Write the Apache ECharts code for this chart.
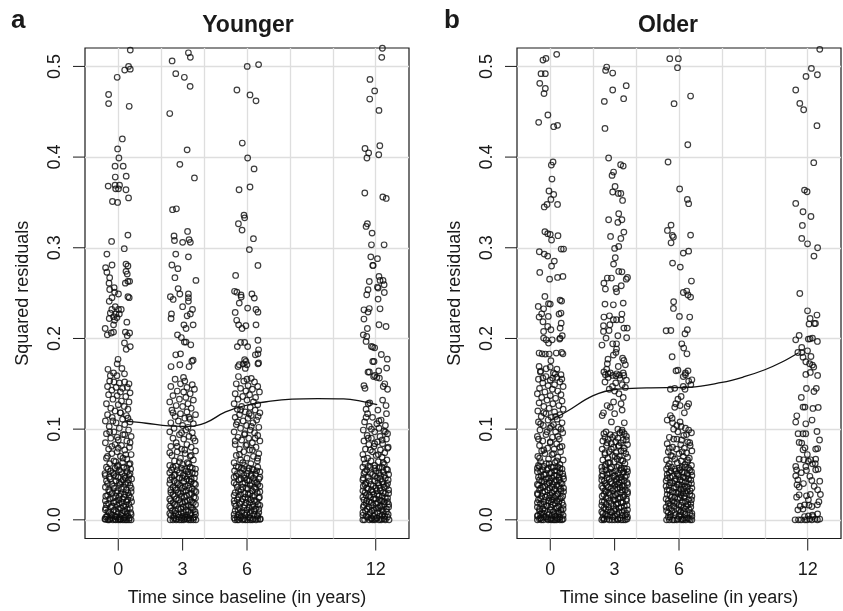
<!DOCTYPE html>
<html>
<head>
<meta charset="utf-8">
<script src="https://cdn.jsdelivr.net/npm/echarts@6/dist/echarts.min.js"></script>
<style>html,body{margin:0;padding:0;background:#fff}#c{width:843px;height:611px}</style>
</head>
<body>
<div id="c"></div>
<script>
// ---- data ----
var timePoints = [0, 3, 6, 12];
var xTicks = [0, 3, 6, 12];
var xGridValues = [0, 2, 4, 6, 8, 10, 12];
var yTicks = [0, 0.1, 0.2, 0.3, 0.4, 0.5];
var panelTitles = ['Younger', 'Older'];
var panelLetters = ['a', 'b'];

// each point: [jitter offset from the visit time, squared residual]
var youngerT0 = [[.56,.518],[.48,.5],[.3,.496],[.56,.497],[-.05,.488],[-.45,.469],[-.45,.459],[.51,.456],[.19,.42],[-.03,.409],[.03,.399],[-.15,.39],[.23,.39],[-.14,.378],[.37,.379],[-.47,.368],[-.15,.369],[-.12,.365],[.01,.365],[.06,.369],[.36,.364],[.48,.355],[-.27,.351],[-.03,.35],
[.45,.314],[-.31,.307],[.28,.299],[-.53,.293],[-.29,.281],[-.59,.278],[-.53,.273],[.36,.282],[.45,.28],[.36,.274],[.42,.271],[.45,.263],[.33,.261],[.53,.263],[-.4,.267],[-.43,.261],[-.4,.254],[-.19,.256],[-.17,.251],[.01,.249],[-.29,.245],[-.42,.241],[.45,.246],[.51,.245],[-.14,.235],[.01,.232],[-.3,.232],[.14,.232],[-.37,.228],[-.11,.227],[.05,.227],[-.22,.224],[-.42,.222],[-.06,.223],[-.17,.22],[-.22,.215],[.4,.218],[-.61,.211],[-.51,.204],[-.33,.206],[-.22,.207],[.33,.207],[.42,.203],[.53,.206],[.29,.195],[.56,.191],[.37,.188],[-.01,.177],[-.05,.172],[.17,.167],[-.48,.166],[-.22,.162],[-.37,.159],[-.06,.159],[.29,.161],
[-.4,.153],[-.2,.152],[.05,.151],[.3,.152],[.5,.15],[-.5,.147],[-.1,.146],[.2,.145],[.42,.146],[-.3,.143],[.1,.141],[.55,.14],[-.45,.138],[-.05,.137],[.35,.136],[-.25,.133],[.15,.131],[.5,.13],[-.55,.128],[0,.127],[.28,.125],[-.35,.123],[.45,.122],[-.15,.12],[.1,.118],[-.5,.116],[.38,.115],[-.28,.113],[.2,.111],[-.6,.109],[.55,.108],[-.1,.107],[.3,.105],[-.42,.103],[.05,.101],[.48,.099],[-.2,.097],[-.55,.095],[.22,.094],[.6,.092],[-.35,.09],[0,.088],[.4,.087],[-.6,.085],[-.15,.083],[.15,.082],[.52,.08],[-.45,.078],[.3,.077],[-.05,.075],[-.3,.073],[.6,.072],[.1,.07],[-.55,.068],[.4,.067],[-.2,.065],[.2,.063],[-.4,.062],[.5,.061],[0,.06],
[-.55,.058],[-.15,.057],[.25,.058],[.58,.056],[-.35,.054],[.05,.055],[.42,.053],[-.62,.051],[-.2,.05],[.18,.051],[.5,.049],[-.42,.047],[0,.047],[.33,.046],[.62,.045],[-.55,.043],[-.1,.043],[.15,.042],[.45,.041],[-.3,.039],[.08,.039],[.55,.038],[-.6,.036],[-.18,.035],[.25,.036],[-.45,.033],[-.02,.032],[.38,.033],[.6,.031],[-.3,.029],[.12,.029],[.5,.027],[-.58,.026],[-.12,.026],[.28,.025],[-.4,.023],[.03,.022],[.45,.022],[.62,.02],[-.22,.019],[.18,.019],[-.55,.017],[-.05,.016],[.35,.016],[-.35,.014],[.1,.013],[.55,.013],[-.6,.011],[-.18,.011],[.25,.01],[-.42,.008],[0,.008],[.42,.007],[.6,.006],[-.28,.005],[.15,.005],[-.52,.004],[-.08,.003],[.32,.003],[.52,.002],[-.62,.001],[-.38,.001],[-.15,.0005],[.05,.001],[.22,0],[.4,0],[.6,0],[-.48,0],[-.25,0],[0,0],
[-.48,.056],[-.05,.059],[.4,.057],[.12,.053],[-.25,.052],[.55,.051],[-.6,.049],[.3,.048],[-.12,.048],[.48,.044],[-.38,.045],[.22,.044],[.05,.041],[-.5,.04],[.35,.04],[-.22,.037],[.6,.035],[.15,.034],[-.4,.031],[.45,.03],[-.08,.03],[.3,.028],[-.5,.027],[.05,.026],[.58,.024],[-.25,.024],[.2,.023],[-.6,.021],[.38,.02],[-.12,.02],[.05,.018],[-.45,.018],[.5,.017],[.25,.015],[-.28,.015],[-.58,.013],[.42,.012],[0,.012],[-.1,.009],[.32,.009],[-.48,.009],[.58,.008],[.18,.007],[-.35,.006],[-.15,.004],[.45,.004],[.05,.003],[-.58,.003],[.28,.002],[-.3,.002],[.12,.001],[-.42,0],[.5,0],[.32,0],[-.6,.0005],[.1,0],[-.12,0],
[.1,.118],[-.25,.109],[.45,.112],[-.4,.097],[.3,.094],[-.05,.091],[.55,.085],[-.3,.081],[0,.079],[.35,.072],[-.5,.07],[.22,.068],[-.12,.064],[.55,.062]];

var youngerT3 = [[.27,.515],[.36,.51],[-.49,.506],[-.32,.492],[.08,.488],[.35,.478],[-.6,.448],[.21,.408],[-.13,.392],[.55,.377],[-.47,.342],[-.29,.343],[.23,.318],[-.4,.313],[-.38,.308],[0,.306],[.3,.309],[.36,.306],[-.32,.293],[.27,.29],[-.5,.281],[-.22,.277],[-.36,.267],[.62,.264],[-.21,.255],[-.57,.246],[-.44,.243],[-.13,.249],[.27,.249],[.27,.245],[.27,.241],[0,.235],[.46,.232],[.21,.225],[.36,.227],[-.52,.227],[-.54,.222],[.06,.215],[.16,.211],[.49,.215],[-.24,.204],[-.06,.201],[.08,.196],[.16,.196],[.38,.193],[-.32,.182],[-.1,.183],[-.54,.169],[-.13,.171],[.43,.175],[.49,.176],[.3,.169],[.04,.157],
[-.35,.155],[.1,.153],[-.1,.15],[.45,.149],[-.55,.147],[.2,.146],[.55,.144],[-.25,.142],[.05,.141],[.35,.139],[-.45,.137],[.15,.135],[-.15,.133],[.5,.132],[-.6,.13],[.25,.128],[-.3,.126],[0,.125],[.4,.123],[-.5,.121],[.2,.119],[-.1,.117],[.6,.116],[-.35,.114],[.1,.112],[.35,.111],[-.2,.109],[-.55,.107],[.5,.106],[0,.104],[.25,.102],[-.4,.101],[.15,.099],[-.6,.097],[.45,.096],[-.15,.094],[.3,.092],[-.45,.09],[.05,.089],[.58,.087],[-.3,.085],[.2,.083],[-.55,.081],[.4,.08],[-.05,.078],[.6,.076],[-.25,.075],[.12,.073],[-.5,.071],[.35,.07],[-.1,.068],[.5,.066],[-.38,.065],[.22,.063],[0,.061],[-.6,.06],
[-.45,.058],[-.05,.057],[.35,.058],[.6,.056],[-.25,.055],[.15,.054],[-.6,.052],[.45,.052],[-.35,.05],[.02,.049],[.28,.05],[-.5,.047],[-.15,.046],[.55,.046],[.2,.045],[-.4,.043],[.05,.042],[.4,.042],[-.6,.04],[-.2,.039],[.6,.039],[.25,.038],[-.45,.036],[-.02,.035],[.45,.034],[-.3,.033],[.15,.032],[.62,.031],[-.55,.03],[-.1,.029],[.32,.028],[-.38,.026],[.08,.025],[.52,.025],[-.6,.023],[-.18,.022],[.22,.021],[.42,.02],[-.45,.019],[0,.018],[.6,.017],[-.28,.016],[.15,.015],[.38,.014],[-.55,.013],[-.08,.012],[.5,.011],[-.35,.01],[.25,.009],[.05,.008],[-.6,.007],[-.2,.006],[.6,.006],[.35,.005],[-.42,.004],[.12,.003],[-.05,.002],[.48,.002],[-.3,.001],[-.58,0],[-.15,0],[.05,0],[.2,.001],[.38,0],[.62,0],[-.45,0],
[-.3,.059],[.45,.057],[.1,.056],[-.52,.055],[.25,.053],[-.15,.052],[.58,.051],[-.4,.049],[.12,.048],[-.02,.046],[.4,.045],[-.58,.044],[.3,.043],[-.25,.041],[.55,.04],[-.1,.038],[.12,.037],[-.35,.035],[.3,.035],[-.55,.033],[.55,.032],[.02,.031],[-.2,.03],[.42,.029],[-.45,.028],[.18,.027],[-.05,.026],[.6,.024],[-.3,.023],[.35,.022],[-.55,.021],[.1,.02],[-.12,.019],[.5,.019],[-.38,.017],[.28,.016],[-.6,.015],[.02,.014],[.45,.013],[-.2,.012],[.15,.011],[-.48,.01],[.58,.009],[-.08,.008],[.38,.007],[-.32,.007],[.2,.005],[-.55,.005],[0,.004],[.55,.003],[-.18,.003],[.3,.002],[-.4,.002],[.1,.001],[-.3,0],[.5,0],[-.05,0],[.28,0],
[-.45,.118],[.3,.113],[-.05,.096],[.5,.09],[-.25,.081],[.1,.077],[-.6,.074],[.4,.071],[-.15,.064],[.28,.062]];

var youngerT6 = [[.01,.5],[.54,.502],[-.47,.474],[.14,.4685],[.42,.462],[-.22,.4155],[.03,.399],[.33,.387],[-.37,.364],[.14,.367],[-.14,.336],[-.11,.333],[-.4,.3265],[-.23,.3195],[.3,.31],[.11,.298],[.51,.2805],[-.53,.2695],[-.58,.252],[-.47,.251],[-.28,.248],[-.27,.2456],[.23,.249],[.34,.2445],[-.36,.239],[.03,.2335],[.42,.232],[.51,.229],[-.55,.2287],[-.48,.22],[-.39,.215],[-.23,.211],[-.05,.214],[.42,.215],[-.3,.1956],[-.11,.1956],[-.45,.191],[.03,.191],[.51,.198],[.54,.1875],[.39,.182],[.51,.183],[-.11,.1765],[-.05,.1746],[-.17,.172],[-.36,.171],[-.42,.169],[0,.171],[-.08,.167],[.54,.173],[.51,.172],[0,.155],
[-.4,.158],[.2,.156],[-.15,.153],[.35,.152],[-.5,.15],[.05,.148],[.5,.147],[-.3,.145],[.25,.144],[-.05,.142],[.58,.141],[-.55,.139],[.12,.138],[-.2,.136],[.4,.135],[-.42,.133],[0,.132],[.3,.13],[-.6,.128],[.5,.127],[-.25,.125],[.15,.124],[-.45,.122],[.38,.121],[-.08,.119],[.6,.118],[-.35,.116],[.2,.115],[-.55,.113],[.05,.112],[.45,.11],[-.18,.109],[.28,.107],[-.5,.105],[-.02,.104],[.55,.102],[-.3,.101],[.15,.099],[-.6,.097],[.35,.096],[-.12,.094],[.5,.093],[-.42,.091],[.08,.09],[-.25,.088],[.6,.087],[.25,.085],[-.55,.083],[-.05,.082],[.42,.08],[-.35,.078],[.12,.077],[-.15,.075],[.55,.073],[-.5,.071],[.3,.07],[0,.068],[-.3,.066],[.48,.065],[-.6,.063],[.18,.062],[-.12,.06],
[-.4,.058],[.1,.057],[.5,.058],[-.15,.056],[.3,.055],[-.58,.054],[.6,.053],[-.3,.052],[0,.051],[.4,.05],[-.5,.048],[.2,.048],[-.1,.046],[.55,.045],[-.38,.044],[.08,.043],[.35,.042],[-.6,.041],[-.2,.04],[.5,.039],[.15,.038],[-.45,.036],[-.02,.035],[.42,.034],[-.28,.033],[.25,.032],[.6,.031],[-.55,.03],[-.12,.029],[.05,.028],[.35,.027],[-.4,.025],[.55,.024],[-.2,.023],[.18,.022],[-.6,.021],[.45,.02],[-.05,.019],[-.35,.018],[.28,.017],[.6,.016],[-.52,.015],[.1,.014],[-.15,.013],[.4,.012],[-.42,.011],[.2,.01],[-.25,.009],[.55,.008],[0,.007],[-.6,.006],[.32,.006],[-.1,.005],[.48,.004],[-.45,.003],[.15,.002],[-.3,.002],[.62,.001],[-.55,0],[-.2,0],[.02,0],[.25,0],[.42,0],[.6,.0005],[-.38,0],
[-.5,.059],[.25,.056],[-.25,.057],[.45,.054],[.05,.054],[-.45,.051],[.2,.05],[-.15,.049],[.6,.047],[-.6,.047],[.3,.046],[-.28,.045],[0,.044],[.45,.041],[-.1,.041],[.22,.04],[-.5,.039],[.6,.037],[.35,.036],[-.2,.036],[.05,.034],[-.4,.032],[.48,.03],[.15,.029],[-.3,.028],[-.6,.027],[.25,.026],[-.08,.025],[.58,.025],[.05,.023],[-.45,.022],[.35,.021],[-.25,.02],[.12,.019],[-.58,.018],[.52,.017],[-.1,.016],[.25,.014],[-.35,.013],[.55,.012],[0,.011],[-.55,.01],[.35,.01],[-.12,.008],[.15,.007],[-.4,.006],[.5,.005],[-.28,.004],[.08,.003],[-.6,.002],[.3,.001],[-.15,.001],[.5,.001],[-.45,0],[.15,0],[-.08,0],
[-.3,.121],[.1,.117],[.52,.114],[-.45,.108],[.2,.103],[-.1,.095],[.38,.09],[-.55,.087],[0,.083],[.25,.077],[-.35,.072],[.5,.068],[-.2,.063]];

var youngerT12 = [[.31,.52],[.28,.51],[-.27,.4857],[-.05,.473],[-.28,.464],[.15,.4515],[-.5,.4095],[-.33,.4045],[-.41,.399],[.19,.4125],[.14,.4026],[-.51,.3604],[.33,.356],[.49,.3544],[-.39,.3265],[-.45,.3235],[-.17,.3162],[-.2,.3033],[.39,.3033],[-.23,.29],[.08,.288],[-.14,.2805],[-.12,.2805],[-.3,.2628],[.15,.2684],[.2,.264],[.34,.264],[.08,.2567],[.39,.2592],[.11,.2556],[-.36,.2537],[-.42,.2482],[.4,.2507],[.11,.2434],[-.55,.2316],[-.3,.233],[-.36,.2291],[.2,.2327],[-.55,.2214],[.15,.2151],[.48,.2132],[-.39,.211],[-.58,.204],[-.42,.2022],[-.45,.1967],[-.2,.1912],[-.14,.1905],[-.05,.1897],[.26,.1823],[.54,.1772],[-.14,.1746],[-.08,.1746],[.51,.1673],[.14,.1643],[-.36,.1629],[-.05,.1592],[.17,.1563],
[-.3,.163],[-.1,.158],[.05,.157],[-.55,.148],[-.5,.145],[.35,.147],[.55,.144],[.42,.15],[-.35,.128],[-.28,.129],[-.45,.122],[-.38,.117],[.1,.121],[.48,.126],[.5,.117],[.32,.132],[-.15,.113],[.25,.11],[-.52,.108],[.05,.106],[.45,.104],[-.3,.103],[.15,.101],[-.58,.099],[.38,.098],[-.05,.097],[.55,.095],[-.4,.093],[.2,.092],[-.2,.09],[.5,.089],[-.55,.087],[.08,.086],[.32,.084],[-.32,.083],[-.08,.081],[.58,.08],[-.48,.078],[.22,.077],[-.15,.075],[.42,.074],[-.6,.072],[.02,.071],[.3,.069],[-.38,.068],[.52,.066],[-.22,.065],[.12,.064],[-.5,.062],[.4,.061],[-.05,.06],
[-.6,.058],[-.25,.058],[.15,.057],[.5,.056],[-.42,.055],[.02,.054],[.35,.053],[-.55,.051],[-.15,.05],[.6,.05],[.22,.049],[-.35,.047],[.08,.046],[.45,.046],[-.6,.044],[-.05,.043],[.3,.042],[-.45,.041],[.55,.04],[-.22,.039],[.15,.038],[-.58,.037],[.4,.036],[0,.035],[-.35,.034],[.6,.033],[.22,.032],[-.15,.031],[-.5,.03],[.45,.029],[.08,.028],[-.3,.027],[.3,.026],[-.6,.025],[.55,.024],[-.1,.023],[.18,.022],[-.42,.021],[.4,.02],[-.2,.019],[0,.018],[.6,.017],[-.55,.016],[.28,.015],[-.32,.014],[.12,.013],[.5,.012],[-.08,.011],[-.48,.01],[.35,.009],[-.25,.008],[.2,.007],[.58,.006],[-.6,.005],[-.1,.004],[.42,.004],[-.38,.003],[.05,.002],[.3,.001],[-.2,.001],[-.52,0],[-.3,0],[-.05,0],[.15,0],[.45,0],[.62,0],
[-.35,.059],[.3,.058],[-.05,.057],[.55,.055],[-.5,.053],[.15,.052],[-.25,.051],[.4,.049],[-.05,.048],[-.58,.046],[.22,.045],[.58,.044],[-.3,.043],[.1,.041],[-.5,.039],[.35,.039],[-.12,.037],[.5,.037],[.2,.035],[-.42,.035],[-.2,.033],[.05,.032],[-.6,.032],[.35,.03],[.6,.029],[-.1,.028],[-.45,.027],[.15,.026],[-.25,.025],[.45,.024],[0,.023],[-.55,.022],[.28,.021],[-.3,.02],[.55,.02],[.1,.019],[-.45,.018],[.4,.017],[-.15,.016],[.2,.015],[-.58,.014],[.6,.014],[0,.013],[-.4,.012],[.3,.011],[-.18,.01],[.5,.009],[-.6,.008],[.08,.008],[-.3,.006],[.3,.005],[.18,.004],[-.45,.004],[.55,.003],[-.2,.002],[0,.001],[.4,.001],[-.6,0],[.25,0],[-.15,0],
[-.45,.113],[.15,.109],[-.2,.1],[.45,.097],[-.35,.09],[.3,.088],[-.05,.084],[.55,.079],[-.25,.077],[.12,.072],[-.55,.067],[.35,.063]];

var olderT0 = [[.3,.5133],[-.34,.507],[-.2,.5088],[-.43,.492],[-.23,.492],[-.49,.4813],[-.23,.4757],[-.29,.47],[-.11,.4464],[-.54,.4383],[.16,.4335],[.34,.435],[.13,.3946],[.05,.3912],[.08,.3758],[-.06,.3626],[.16,.3588],[.03,.3533],[.34,.3478],[-.15,.3478],[-.28,.345],
[-.25,.3177],[-.12,.3155],[0,.3147],[.36,.3133],[.06,.3085],[.51,.2986],[.62,.2986],[-.51,.2956],[-.28,.293],[-.12,.2908],[.19,.2853],[.06,.2798],[-.49,.2728],[-.03,.2654],[.34,.2673],[.59,.2684],[-.25,.2463],[-.56,.2353],[-.08,.2383],[0,.2379],[.46,.2423],[.53,.2412],[-.31,.2327],[-.4,.2272],[-.52,.2236],[-.09,.2243],[.41,.2269],[.5,.228],[-.34,.2184],[-.12,.2132],[.03,.2096],[-.31,.2077],[.46,.2114],[.51,.2169],[-.31,.2004],[-.19,.1985],[.09,.1985],[-.08,.1949],[.46,.2004],[.56,.203],[.44,.1993],[-.52,.1839],[-.38,.1831],[-.23,.1828],[-.05,.1828],[.28,.1839],[.53,.1846],[.59,.1831],[.03,.1754],[-.52,.1691],[-.46,.1629],[-.19,.1666],[0,.1684],[.31,.1662],[.23,.1607],[.11,.1563],[-.34,.1563],[.54,.1552],
[-.45,.164],[.15,.162],[.5,.16],[-.2,.158],[.3,.157],[-.55,.155],[0,.154],[.45,.152],[-.35,.151],[.2,.149],[-.1,.148],[.6,.147],[-.5,.145],[.1,.144],[.35,.142],[-.25,.141],[-.6,.139],[.5,.138],[0,.137],[-.4,.135],[.25,.134],[-.15,.132],[.55,.131],[-.52,.129],[.12,.128],[.4,.126],[-.3,.125],[-.05,.123],[.6,.122],[-.58,.12],[.2,.119],[-.2,.117],[.45,.116],[-.42,.114],[.05,.113],[.32,.111],[-.1,.11],[-.55,.108],[.55,.107],[.15,.105],[-.32,.104],[.38,.102],[-.02,.101],[-.48,.099],
[.25,.097],[.58,.096],[-.2,.094],[-.6,.092],[.1,.091],[.42,.089],[-.35,.087],[0,.086],[.3,.084],[-.5,.082],[.55,.081],[-.12,.079],[.18,.078],[-.4,.076],[.48,.075],[-.25,.073],[.08,.072],[-.58,.07],[.35,.069],[-.08,.067],[.6,.066],[-.45,.064],[.22,.063],[-.18,.062],[.45,.061],[-.55,.06],
[-.3,.059],[.05,.058],[.35,.058],[-.6,.057],[.55,.056],[-.15,.055],[.2,.054],[-.45,.053],[.45,.052],[-.02,.051],[-.3,.05],[.3,.049],[.6,.048],[-.55,.047],[.1,.046],[-.2,.045],[.42,.044],[-.4,.043],[.2,.042],[-.05,.041],[.55,.04],[-.6,.039],[.3,.038],[-.25,.037],[.08,.036],[-.45,.035],[.48,.034],[-.12,.033],[.18,.032],[.62,.031],[-.35,.03],[.35,.029],[-.58,.028],[0,.027],[.25,.026],[-.22,.025],[.52,.024],[-.45,.023],[.1,.022],[-.08,.021],[.4,.02],[-.6,.019],[.22,.018],[-.3,.017],[.6,.016],[-.15,.015],[.02,.014],[.32,.013],[-.5,.012],[.5,.011],[-.25,.01],[.15,.009],[-.4,.008],[.42,.007],[-.05,.006],[.6,.005],[-.58,.005],[.25,.004],[-.2,.003],[.05,.002],[-.45,.002],[.38,.001],[.55,0],[.15,0],[-.1,0],[-.32,0],[-.6,0],[.3,0],[-.5,.001],[0,.0005],
[-.5,.059],[.15,.058],[-.1,.057],[.45,.057],[-.35,.055],[.3,.054],[-.6,.053],[.05,.052],[.58,.051],[-.22,.05],[.18,.049],[-.42,.048],[.42,.047],[-.08,.046],[.62,.045],[-.5,.044],[.28,.044],[0,.043],[-.3,.042],[.48,.041],[-.15,.04],[.12,.039],[-.55,.038],[.4,.037],[-.35,.036],[.62,.035],[-.02,.035],[.22,.034],[-.5,.033],[.5,.032],[-.25,.031],[.08,.03],[-.6,.029],[.3,.028],[-.15,.027],[.58,.026],[-.4,.026],[.15,.025],[-.05,.024],[.45,.023],[-.55,.022],[.3,.021],[-.3,.02],[.05,.02],[.55,.019],[-.45,.018],[.12,.017],[-.18,.016],[.4,.015],[-.6,.014],[.25,.013],[-.35,.012],[.6,.012],[0,.011],[-.5,.01],[.35,.009],[-.12,.008],[.52,.008],[-.3,.007],[.2,.006],[-.45,.006],[.08,.005],[-.6,.004],[.45,.003],[-.3,.003],[.3,.002],[-.15,.001],[.6,.001],[-.42,0],[.22,0],[.45,0],[.05,0],
[-.3,.118],[.25,.114],[-.45,.106],[.05,.103],[.5,.1],[-.15,.097],[.35,.092],[-.55,.089],[0,.085],[.45,.08],[-.3,.077],[.15,.073],[-.5,.068],[.3,.065],[-.05,.062]];

var olderT3 = [[-.37,.4993],[-.42,.4956],[-.09,.4927],[.54,.4787],[-.09,.474],[-.48,.4614],[.42,.4644],[-.45,.4316],[-.28,.399],[.28,.3916],[.4,.3901],[-.05,.3835],[-.12,.3798],[.02,.3676],[-.09,.3615],[.17,.3599],[.29,.3599],[.37,.3522],[.19,.3375],
[.15,.328],[.34,.3309],[-.28,.3309],[.43,.3173],[-.19,.3125],[.29,.3103],[0,.2993],[.19,.3015],[.03,.289],[-.05,.282],[.19,.2739],[.34,.2735],[.54,.2654],[.6,.2673],[-.34,.2666],[-.15,.2666],[-.5,.261],[-.43,.2545],[.06,.2551],[.31,.2581],[.09,.2515],[-.45,.2379],[-.06,.2371],[.4,.239],[.34,.2269],[-.5,.2236],[-.24,.225],[-.06,.2206],[.09,.2206],[.31,.2206],[-.22,.2151],[.43,.2114],[.59,.2114],[-.52,.214],[-.52,.2077],[-.26,.2088],[.15,.203],[.56,.2008],[-.4,.2004],[-.59,.1927],[-.09,.1941],[.09,.1941],[.09,.1883],[-.06,.1817],[.06,.1846],[-.31,.1772],[.37,.1783],[.43,.1757],[.5,.171],[-.34,.1721],[-.37,.1662],[.17,.1691],[-.43,.16],[-.3,.161],[-.09,.1592],[.06,.1588],[.22,.1596],[.43,.1592],
[-.5,.163],[-.2,.162],[.1,.161],[.4,.162],[-.3,.157],[.25,.156],[.55,.154],[-.45,.152],[.05,.151],[.35,.149],[-.1,.147],[.5,.146],[-.25,.144],[0,.142],[.2,.139],[.4,.135],[-.05,.13],[.3,.128],[-.35,.126],[-.2,.124],[.35,.121],[-.52,.118],[-.58,.115],[0,.117],[-.15,.108],[.45,.107],[.15,.1],[.35,.099],[-.4,.097],[.25,.096],[.45,.095],[-.2,.094],[0,.093],[.55,.092],[-.45,.091],[.15,.09],[-.3,.089],[.4,.088],[-.55,.087],[.05,.086],[.28,.085],[-.15,.084],[.6,.083],[-.38,.082],[.18,.081],[-.05,.08],[.45,.079],[-.58,.078],[.3,.076],[-.25,.075],[.08,.074],[.52,.073],[-.45,.072],[-.1,.071],[.22,.07],[.6,.069],[-.32,.068],[.12,.067],[-.55,.066],[.38,.065],[-.02,.064],[-.22,.063],[.48,.062],[-.42,.061],[.2,.06],
[-.6,.058],[-.15,.058],[.3,.057],[.58,.056],[-.4,.055],[.05,.054],[.42,.053],[-.25,.052],[.18,.051],[-.55,.05],[.55,.049],[-.05,.048],[.3,.047],[-.35,.046],[.1,.045],[-.6,.044],[.45,.043],[-.18,.042],[.22,.041],[-.45,.04],[.6,.039],[0,.038],[.35,.037],[-.3,.036],[-.55,.035],[.15,.034],[.5,.033],[-.1,.032],[-.4,.031],[.28,.03],[.6,.029],[-.22,.028],[.05,.027],[-.58,.026],[.4,.025],[-.32,.024],[.18,.023],[-.05,.022],[.55,.021],[-.48,.02],[.3,.019],[-.15,.018],[.08,.017],[-.6,.016],[.45,.015],[-.28,.014],[.2,.013],[-.42,.012],[.6,.011],[0,.01],[-.18,.009],[.35,.008],[-.55,.007],[.12,.006],[.5,.005],[-.35,.004],[-.08,.003],[.25,.002],[.58,.001],[-.48,.001],[-.25,0],[0,0],[.15,0],[.4,0],[-.6,0],
[-.45,.059],[.12,.058],[.45,.057],[-.2,.056],[.28,.055],[-.58,.054],[.6,.053],[-.1,.052],[.38,.051],[-.35,.05],[.02,.049],[-.6,.048],[.48,.047],[.18,.046],[-.25,.045],[.32,.044],[-.48,.043],[.05,.042],[.58,.041],[-.12,.04],[.15,.039],[-.38,.038],[.45,.037],[-.6,.037],[.25,.036],[-.15,.035],[0,.034],[.35,.033],[-.45,.032],[.6,.031],[-.28,.03],[.12,.029],[-.5,.028],[.45,.027],[-.05,.026],[.25,.025],[-.4,.024],[.55,.023],[.02,.022],[-.25,.021],[-.58,.02],[.38,.019],[.15,.018],[-.4,.017],[.58,.016],[-.05,.015],[.3,.014],[-.5,.013],[.05,.012],[-.3,.011],[.45,.01],[-.6,.009],[.2,.009],[-.12,.008],[.55,.007],[-.42,.006],[.35,.005],[-.22,.005],[0,.004],[.6,.003],[-.55,.002],[.15,.001],[-.35,.001],[.5,0],[-.12,0],[.3,0],[-.5,0],
[.35,.097],[-.5,.095],[-.1,.091],[.55,.088],[-.35,.085],[.2,.082],[-.15,.078],[.42,.076],[-.45,.074],[.02,.07],[.3,.066],[-.3,.063]];

var olderT6 = [[-.43,.5085],[-.03,.5085],[-.07,.4986],[.54,.4673],[-.23,.4589],[.41,.4136],[-.51,.3946],[.03,.3648],[.39,.3533],[.45,.3486],
[-.37,.325],[-.54,.3191],[-.31,.3136],[-.26,.3118],[-.37,.3055],[.54,.314],[.2,.2941],[.45,.2963],[-.3,.2831],[.06,.2787],[.58,.2633],[.2,.2507],[.36,.2523],[.42,.2479],[.54,.2456],[-.25,.2405],[-.26,.2331],[.02,.2243],[.5,.2236],[-.6,.2085],[-.38,.2088],[.39,.2096],[.28,.2052],[.13,.1941],[.22,.1894],[.37,.1831],[-.32,.1798],[-.14,.1643],[.42,.1643],[.3,.16],[.6,.1544],
[-.05,.165],[.3,.162],[.2,.158],[.45,.153],[.55,.149],[.2,.147],[-.4,.144],[-.2,.145],[.28,.144],[.1,.136],[-.05,.133],[-.15,.128],[-.2,.124],[.45,.128],[.38,.125],[.05,.126],[-.55,.11],[-.32,.112],[-.3,.107],[-.1,.104],[.1,.103],[.3,.101],[.45,.099],[.58,.096],[-.05,.097],[.22,.093],[.12,.088],[-.45,.091],[-.25,.089],[.4,.086],[-.55,.084],[.08,.083],[.52,.082],[-.3,.08],[.25,.079],[-.12,.078],[.6,.076],[-.5,.075],[.35,.074],[0,.073],[-.38,.071],[.2,.07],[.48,.068],[-.2,.067],[-.58,.066],[.1,.065],[.4,.064],[-.08,.063],[-.45,.062],[.28,.061],[.58,.06],
[-.35,.058],[0,.057],[.3,.058],[-.58,.056],[.5,.055],[-.15,.054],[.15,.053],[-.45,.052],[.38,.051],[-.05,.05],[.6,.049],[-.3,.048],[.2,.047],[-.55,.046],[.45,.045],[.05,.044],[-.2,.043],[.3,.042],[-.42,.041],[.58,.04],[-.08,.039],[.12,.038],[-.6,.037],[.4,.036],[-.25,.035],[.22,.034],[-.45,.033],[.52,.032],[0,.031],[-.15,.03],[.32,.029],[-.55,.028],[.1,.027],[.6,.026],[-.35,.025],[.25,.024],[-.05,.023],[.45,.022],[-.5,.021],[.15,.02],[-.22,.019],[.55,.018],[-.4,.017],[0,.016],[.35,.015],[-.6,.014],[.2,.013],[-.12,.012],[.48,.011],[-.32,.01],[.08,.009],[-.5,.008],[.6,.007],[.28,.006],[-.2,.005],[0,.004],[-.42,.003],[.4,.002],[.15,.001],[-.58,0],[-.3,0],[-.1,0],[.1,0],[.32,0],[.52,0],
[-.5,.059],[.15,.058],[.45,.057],[-.2,.056],[.05,.055],[-.38,.054],[.58,.053],[.25,.052],[-.1,.051],[-.55,.05],[.4,.049],[0,.048],[-.42,.047],[.3,.046],[-.15,.045],[.55,.044],[-.6,.043],[.15,.042],[-.3,.041],[.45,.04],[0,.039],[-.45,.038],[.28,.037],[-.15,.036],[.6,.035],[.08,.034],[-.55,.033],[.38,.032],[-.3,.031],[.18,.03],[-.05,.029],[.5,.028],[-.42,.027],[.25,.026],[-.2,.025],[.05,.024],[-.6,.023],[.58,.022],[-.3,.021],[.3,.02],[-.1,.019],[-.5,.018],[.42,.017],[.1,.016],[-.25,.015],[.55,.014],[-.45,.013],[.3,.012],[0,.011],[-.58,.01],[.2,.009],[-.2,.008],[.5,.007],[-.38,.006],[.1,.005],[.6,.004],[-.5,.003],[.25,.002],[-.05,.001],[.45,.001],[-.45,0],[.2,0],[-.22,0],[.6,0],
[.25,.118],[-.4,.115],[.05,.108],[-.25,.1],[.35,.094],[-.1,.089],[.5,.085],[-.45,.079],[.15,.075],[-.3,.07],[.4,.066]];

var olderT12 = [[.56,.5188],[.17,.4978],[-.08,.489],[.45,.4908],[-.56,.474],[-.37,.4592],[-.19,.4522],[.43,.4346],[.28,.3938],[-.15,.3636],[-.03,.3618],[-.56,.3489],[-.22,.3397],[.15,.3345],
[-.25,.3246],[-.28,.3103],[-.01,.3044],[.46,.3],[.29,.2908],[-.37,.2496],[-.01,.2305],[.11,.222],[.43,.2258],[.06,.2159],[.31,.2165],[.36,.2165],[-.56,.1985],[-.4,.2033],[.03,.1993],[.11,.1996],[.22,.2004],[.45,.1967],[-.28,.19],[-.46,.1845],[-.28,.1845],[-.01,.1864],[.15,.1801],[-.22,.1794],[-.09,.1743],[.09,.1721],[.22,.1706],[.28,.1684],[.12,.1625],[.46,.1592],[-.09,.1603],
[-.06,.1448],[.29,.1415],[-.22,.1243],[-.13,.1243],[.24,.1228],[.49,.1239],[-.51,.1147],[-.56,.1078],[-.09,.1059],[.43,.0974],[-.22,.0949],[-.09,.0949],[-.4,.0853],[-.28,.0846],[-.22,.0772],[-.13,.0794],[.37,.078],[.46,.0786],[-.4,.0669],[-.19,.0662],[.03,.0647],[.14,.0662],[.37,.0669],[.22,.0618],[-.56,.0588],[-.52,.0551],[-.09,.0588],[-.06,.0544],[.48,.0559],[.37,.0551],[.19,.0434],[.56,.0426],[-.56,.0485],[-.46,.0441],[-.5,.0386],[-.4,.0361],[.46,.0331],[.59,.0279],[-.4,.0276],[-.06,.0265],[.03,.0221],[-.15,.0165],[.06,.0162],[.19,.0147],[.45,.0165],[-.22,.0118],[-.46,.011],[.22,.0052],[.46,.0066],[-.59,0],[-.43,0],[-.31,0],[-.13,0],[-.03,0],[.09,.0008],[.19,0],[.34,.0008],[.45,0],[.56,.0008],[-.15,.0036],[.03,.0044],[.24,.0036],
[-.3,.052],[.1,.048],[.3,.037],[-.2,.04],[.52,.02],[-.35,.015],[.12,.028],[-.52,.025],[.35,.062],[-.02,.072],[.55,.088],[-.45,.095],[.2,.11],[-.3,.135],[.4,.145]];

// smoothed (lowess) curves: [time, fitted squared residual]
var youngerSmooth = [[0.3,0.1088],[1.3,0.1065],[2.35,0.1035],[3.3,0.1030],[4.06,0.1068],[5.0,0.1190],[6.05,0.1268],[7.1,0.1308],[8.1,0.1330],[9.3,0.1336],[10.5,0.1333],[11.3,0.1310],[12.07,0.1270]];
var olderSmooth = [[0.0,0.1100],[0.77,0.1195],[2.0,0.1370],[3.1,0.1440],[4.5,0.1455],[6.5,0.1462],[8.0,0.1515],[9.0,0.1575],[10.0,0.1655],[10.8,0.1740],[11.55,0.1840]];

// ---- build ----
var FONT = '"Liberation Sans", Arial, Helvetica, sans-serif';
var TXT = '#1a1a1a';
var youngerGroups = [youngerT0, youngerT3, youngerT6, youngerT12];
var olderGroups = [olderT0, olderT3, olderT6, olderT12];

var X_MIN = -1.55, X_MAX = 13.55, Y_MIN = -0.0206, Y_MAX = 0.5203;
var TICK_PX = 12;

function toPoints(groups) {
  var out = [];
  groups.forEach(function (g, i) {
    g.forEach(function (p) { out.push([timePoints[i] + p[0], p[1]]); });
  });
  return out;
}

var gridLeft = [85, 517];
var grids = [], xAxes = [], yAxes = [], series = [];
[0, 1].forEach(function (i) {
  grids.push({ left: gridLeft[i], top: 48, width: 324, height: 490.5, show: true,
    borderColor: '#1a1a1a', borderWidth: 1.2, backgroundColor: 'transparent',
    containLabel: false, outerBoundsMode: 'none' });
  xAxes.push({ gridIndex: i, type: 'value', min: X_MIN, max: X_MAX, position: 'bottom',
    axisLine: { show: false, onZero: false }, splitLine: { show: false },
    axisTick: { show: false },
    axisLabel: { customValues: xTicks, margin: 23, fontSize: 18, color: TXT, fontFamily: FONT },
    name: 'Time since baseline (in years)', nameLocation: 'middle', nameGap: 51,
    nameTextStyle: { fontSize: 18, color: TXT, fontFamily: FONT } });
  yAxes.push({ gridIndex: i, type: 'value', min: Y_MIN, max: Y_MAX, position: 'left',
    axisLine: { show: false, onZero: false }, splitLine: { show: false },
    axisTick: { show: false },
    axisLabel: { customValues: yTicks, rotate: 90, margin: 21, fontSize: 18, color: TXT, fontFamily: FONT,
      formatter: function (v) { return v.toFixed(1); } },
    name: 'Squared residuals', nameLocation: 'middle', nameGap: 53, nameRotate: 90,
    nameTextStyle: { fontSize: 18, color: TXT, fontFamily: FONT } });

  var gridLines = xGridValues.map(function (v) { return { xAxis: v }; })
    .concat(yTicks.map(function (v) { return { yAxis: v }; }));

  series.push({ type: 'scatter', xAxisIndex: i, yAxisIndex: i, z: 3,
    data: toPoints(i === 0 ? youngerGroups : olderGroups),
    symbol: 'circle', symbolSize: 5.6, silent: true,
    itemStyle: { color: 'rgba(0,0,0,0)', borderColor: '#0d0d0d', borderWidth: 1.2 },
    emphasis: { disabled: true },
    markLine: { silent: true, z: 1, symbol: ['none', 'none'], label: { show: false },
      lineStyle: { color: '#dedede', width: 1.3, type: 'solid' }, emphasis: { disabled: true },
      data: gridLines } });
  series.push({ type: 'line', xAxisIndex: i, yAxisIndex: i, z: 4,
    data: i === 0 ? youngerSmooth : olderSmooth, smooth: 0.4, showSymbol: false, silent: true,
    lineStyle: { color: '#111', width: 1.3 } });
});

var chart = echarts.init(document.getElementById('c'), null, { renderer: 'canvas' });
chart.setOption({
  animation: false,
  backgroundColor: '#fff',
  grid: grids, xAxis: xAxes, yAxis: yAxes, series: series
});

// titles, panel letters and outward tick marks (tick positions via the chart's own axis scales)
var graphics = [
  { type: 'text', left: 11, top: 8, style: { text: panelLetters[0], font: 'bold 26px ' + FONT, fill: TXT } },
  { type: 'text', left: 444, top: 8, style: { text: panelLetters[1], font: 'bold 26px ' + FONT, fill: TXT } },
  { type: 'text', x: 248, y: 26, style: { text: panelTitles[0], font: 'bold 23px ' + FONT, fill: TXT, align: 'center', verticalAlign: 'middle' } },
  { type: 'text', x: 668, y: 26, style: { text: panelTitles[1], font: 'bold 23px ' + FONT, fill: TXT, align: 'center', verticalAlign: 'middle' } }
];
[0, 1].forEach(function (i) {
  var finder = { xAxisIndex: i, yAxisIndex: i };
  xTicks.forEach(function (v) {
    var p = chart.convertToPixel(finder, [v, Y_MIN]);
    graphics.push({ type: 'line', silent: true, shape: { x1: p[0], y1: p[1], x2: p[0], y2: p[1] + TICK_PX },
      style: { stroke: '#1a1a1a', lineWidth: 1 } });
  });
  yTicks.forEach(function (v) {
    var p = chart.convertToPixel(finder, [X_MIN, v]);
    graphics.push({ type: 'line', silent: true, shape: { x1: p[0], y1: p[1], x2: p[0] - TICK_PX, y2: p[1] },
      style: { stroke: '#1a1a1a', lineWidth: 1 } });
  });
});
chart.setOption({ graphic: graphics });
</script>
</body>
</html>
